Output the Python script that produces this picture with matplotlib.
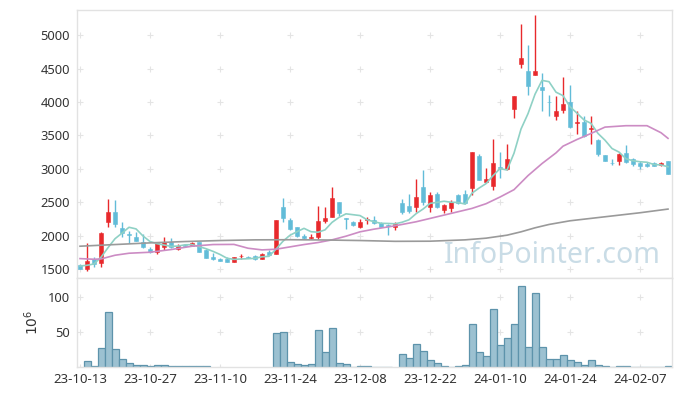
import matplotlib
matplotlib.use("Agg")
import matplotlib.pyplot as plt
import numpy as np

# ---------------- data ----------------
tick_labels = ["23-10-13", "23-10-27", "23-11-10", "23-11-24", "23-12-08",
               "23-12-22", "24-01-10", "24-01-24", "24-02-07"]

opens = [1564, 1505, 1649, 1589, 2212, 2356, 2112, 2022, 1977, 1903,
         1808, 1764, 1838, 1913, 1808, 1870, 1853, 1903, 1789, 1684,
         1654, 1654, 1614, 1695, 1689, 1694, 1659, 1764, 1729, 2430,
         2237, 2127, 2002, 1963, 1988, 2227, 2276, 2500, 2265, 2207,
         2132, 2237, 2237, 2197, 2162, 2137, 2495, 2445, 2435, 2734,
         2435, 2625, 2385, 2410, 2610, 2625, 2719, 3198, 2804, 2749,
         3024, 2999, 3890, 4562, 4467, 4410, 4219, 4005, 3790, 3880,
         3995, 3685, 3700, 3590, 3432, 3203, 3094, 3124, 3233, 3143,
         3089, 3074, 3094, 3064, 3119]
highs = [1575, 1888, 1689, 2050, 2545, 2530, 2210, 2072, 2050, 2030,
         1840, 1913, 1990, 1963, 1873, 1880, 1910, 1910, 1800, 1739,
         1674, 1689, 1689, 1729, 1699, 1709, 1739, 1789, 2240, 2560,
         2262, 2137, 2032, 2022, 2446, 2430, 2724, 2510, 2272, 2217,
         2247, 2282, 2290, 2202, 2170, 2200, 2544, 2620, 2844, 2988,
         2660, 2660, 2475, 2530, 2630, 2685, 3248, 3218, 3009, 3442,
         3258, 3368, 4089, 5165, 4855, 5299, 4433, 4109, 4085, 4377,
         4248, 3870, 3790, 3790, 3440, 3213, 3143, 3233, 3357, 3158,
         3124, 3100, 3110, 3110, 3119]
lows = [1500, 1475, 1535, 1540, 2137, 2137, 1990, 1888, 1928, 1815,
        1750, 1735, 1790, 1813, 1795, 1850, 1845, 1755, 1665, 1634,
        1619, 1605, 1609, 1654, 1664, 1639, 1654, 1709, 1725, 2212,
        2087, 1988, 1958, 1950, 1960, 2190, 2276, 2290, 2097, 2142,
        2122, 2177, 2180, 2130, 2007, 2080, 2325, 2335, 2360, 2465,
        2350, 2420, 2340, 2360, 2470, 2476, 2610, 2830, 2789, 2685,
        2864, 2990, 3760, 4503, 4110, 4405, 3870, 3785, 3730, 3829,
        3610, 3521, 3470, 3372, 3200, 3114, 3054, 3054, 3084, 3044,
        3004, 3030, 3040, 3040, 2930]
closes = [1509, 1624, 1579, 2047, 2356, 2177, 2047, 2012, 1928, 1828,
          1759, 1888, 1913, 1828, 1848, 1855, 1898, 1764, 1674, 1649,
          1624, 1614, 1679, 1705, 1669, 1654, 1729, 1714, 2237, 2266,
          2097, 1998, 1963, 1988, 2222, 2272, 2560, 2336, 2257, 2157,
          2207, 2247, 2187, 2137, 2147, 2182, 2360, 2375, 2585, 2500,
          2605, 2435, 2460, 2510, 2486, 2486, 3248, 2834, 2844, 3083,
          3014, 3143, 4089, 4652, 4234, 4460, 4179, 3995, 3865, 3974,
          3631, 3700, 3491, 3610, 3218, 3124, 3084, 3223, 3109, 3069,
          3049, 3049, 3049, 3084, 2930]
# volume, millions of shares
volumes = [0, 8, 2, 27, 78, 25, 11, 5, 3.3, 2.4,
           1, 3.3, 3.3, 1, 1, 1, 1, 1, 1, 0,
           0, 0, 0, 0, 0, 0, 0, 0, 48, 49.5,
           6.7, 3.8, 2.4, 3.8, 53, 22, 56, 6.2, 4.3, 0.5,
           2, 2, 0.5, 0.5, 0.5, 0, 19, 13, 33, 23,
           9.5, 6.2, 2, 0.5, 2, 3.3, 62, 22, 15, 83,
           32, 42, 62, 115, 28, 106, 28, 12, 12, 17.6,
           10.5, 7.6, 3.3, 10.5, 3.3, 2, 0.5, 2, 2, 0.5,
           0.5, 0.5, 0.5, 0.5, 2]
# 5-day moving average (read at every session)
ma5 = [1549, 1560, 1580, 1680, 1823, 1957, 2041, 2128, 2104, 1998,
       1915, 1883, 1863, 1843, 1847, 1866, 1868, 1839, 1808, 1768,
       1722, 1665, 1648, 1654, 1658, 1664, 1687, 1694, 1801, 1920,
       2009, 2062, 2112, 2062, 2054, 2089, 2201, 2276, 2329, 2316,
       2303, 2241, 2211, 2187, 2185, 2180, 2203, 2240, 2330, 2400,
       2485, 2500, 2517, 2502, 2499, 2475, 2638, 2713, 2780, 2899,
       3005, 2984, 3235, 3596, 3826, 4116, 4323, 4304, 4147, 4095,
       3929, 3833, 3732, 3681, 3530, 3429, 3305, 3252, 3152, 3122,
       3107, 3100, 3065, 3060, 3032]
# 20-day moving average (read at sampled sessions)
ma20_idx = [0, 2, 3, 5, 7, 10, 13, 16, 19, 22, 24, 26, 28, 30, 32, 34, 36, 38,
            40, 42, 45, 48, 50, 52, 54, 56, 58, 60, 62, 64, 66, 68, 69, 71, 73,
            75, 76, 78, 81, 83, 84]
ma20 = [1660, 1650, 1655, 1710, 1740, 1755, 1795, 1845, 1870, 1872, 1815, 1790,
        1800, 1835, 1870, 1900, 1940, 1995, 2060, 2100, 2150, 2210, 2260, 2310,
        2360, 2410, 2480, 2580, 2690, 2900, 3080, 3240, 3340, 3440, 3530, 3625,
        3632, 3646, 3646, 3541, 3457]
# 60-day moving average (read at sampled sessions)
ma60_idx = [0, 5, 10, 15, 20, 25, 30, 35, 40, 45, 50, 55, 58, 61, 63, 65, 67,
            70, 75, 80, 84]
ma60 = [1845, 1870, 1895, 1915, 1930, 1940, 1942, 1938, 1930, 1918, 1920, 1940,
        1965, 2010, 2060, 2120, 2170, 2225, 2285, 2345, 2400]

# ---------------- style ----------------
plt.rcParams['font.family'] = ['Noto Sans', 'DejaVu Sans']
UP = '#e8292c'
DOWN = '#62bcd8'
GRID = '#e4e4e4'
SPINE = '#e2e2e2'
TXT = '#333333'

fig = plt.figure(figsize=(6.8, 3.96), dpi=100)
ax = fig.add_axes([77 / 680, 118 / 396, 595 / 680, 268 / 396])
axv = fig.add_axes([77 / 680, 29 / 396, 595 / 680, 89 / 396], sharex=ax)

n = len(closes)
x = np.arange(n)
o = np.array(opens, float)
h = np.array(highs, float)
l = np.array(lows, float)
c = np.array(closes, float)
up = c >= o
cols = np.where(up, UP, DOWN)

# watermark
ax.text(0.799, 0.083, "InfoPointer.com", transform=ax.transAxes,
        ha='center', va='center', fontsize=20.5, color='#c9dce6', zorder=0)

# grid crosses
yt = np.arange(1500, 5001, 500)
xt = np.arange(0, 81, 10)
gx, gy = np.meshgrid(xt, yt)
ax.plot(gx.ravel(), gy.ravel(), ls='none', marker='+', ms=4, mew=0.8,
        color=GRID, zorder=0)

# candles
ax.vlines(x, l, h, colors=cols, lw=1.0, zorder=2)
body = np.where(np.abs(c - o) < 8, 8, np.abs(c - o))
ax.bar(x, body, bottom=np.minimum(o, c), width=0.62, color=cols,
       edgecolor=cols, lw=0.4, zorder=3)

# moving averages
ax.plot(x, ma5, color='#8fd1c5', lw=1.2, zorder=4)
ax.plot(ma20_idx, ma20, color='#cc8cc4', lw=1.2, zorder=4)
ax.plot(ma60_idx, ma60, color='#9a9a9a', lw=1.2, zorder=4)

ax.set_xlim(-0.43, 84.57)
ax.set_ylim(1370, 5375)
ax.set_yticks(yt)
ax.tick_params(axis='y', length=0, pad=5, labelsize=9.3, labelcolor=TXT)
ax.tick_params(axis='x', length=0, labelbottom=False)
for s in ax.spines.values():
    s.set_color(SPINE)
    s.set_linewidth(1)

# volume
v = np.array(volumes, float)
m = v > 0
axv.bar(x[m], v[m], width=1.0, color='#9cc1d1', edgecolor='#5d93ab',
        lw=0.9, zorder=2)
vt = [50, 100]
gx2, gy2 = np.meshgrid(xt, [0, 50, 100])
axv.plot(gx2.ravel(), gy2.ravel(), ls='none', marker='+', ms=4, mew=0.8,
         color=GRID, zorder=0)
axv.set_ylim(0, 127)
axv.set_yticks(vt)
axv.set_xticks(xt)
axv.set_xticklabels(tick_labels)
axv.tick_params(axis='both', length=0, labelsize=9.5, labelcolor=TXT)
axv.tick_params(axis='y', pad=5, labelsize=9.3)
axv.tick_params(axis='x', pad=4)
axv.set_ylabel(r'$10^6$', fontsize=10, color=TXT, labelpad=4)
for s in axv.spines.values():
    s.set_color(SPINE)
    s.set_linewidth(1)

fig.savefig("out.png", dpi=100, facecolor='white')
